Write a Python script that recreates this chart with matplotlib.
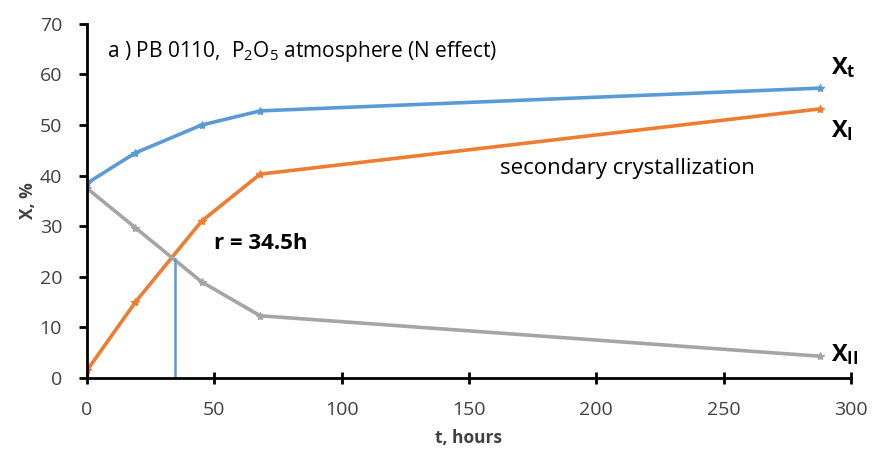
import matplotlib.pyplot as plt
import numpy as np

# time points (hours) and fractions (%)
t = [0, 19, 45, 68, 288]
x_t = [38.5, 44.5, 50.0, 52.8, 57.3]
x_1 = [1.5, 15.0, 31.0, 40.3, 53.2]
x_2 = [37.5, 29.7, 19.0, 12.3, 4.3]
r_t = 34.5
r_x = 23.5

colours = ['#5B9BD5', '#ED7D31', '#A5A5A5']

plt.rcParams['font.family'] = ['Open Sans', 'DejaVu Sans']
plt.rcParams['mathtext.fontset'] = 'custom'
plt.rcParams['mathtext.rm'] = 'Open Sans'
plt.rcParams['mathtext.bf'] = 'Open Sans:bold'
plt.rcParams['mathtext.it'] = 'Open Sans:italic'

fig = plt.figure(figsize=(8.72, 4.5), dpi=100)
ax = fig.add_axes([0.0998, 0.16, 0.876, 0.787])

ax.plot(t, x_t, '-', c=colours[0], lw=2.6, marker='*', ms=6)
ax.plot(t, x_1, '-', c=colours[1], lw=2.6, marker='*', ms=6)
ax.plot(t, x_2, '-', c=colours[2], lw=2.6, marker='*', ms=6)
ax.plot([r_t, r_t], [0, r_x], '-', c=colours[0], lw=1.8)

ax.set_xlim(0, 300)
ax.set_ylim(0, 70)
ax.set_xticks(np.arange(0, 301, 50))
ax.set_yticks(np.arange(0, 71, 10))
ax.tick_params(axis='x', direction='inout', length=9, width=2, labelsize=14, pad=12,
               labelcolor='#404040')
ax.tick_params(axis='y', direction='out', length=6, width=2, labelsize=14, pad=12,
               labelcolor='#404040')
for s in ['top', 'right']:
    ax.spines[s].set_visible(False)
for s in ['left', 'bottom']:
    ax.spines[s].set_linewidth(2)

ax.set_xlabel('t, hours', fontsize=12.5, fontweight='bold', color='#404040')
ax.set_ylabel('X, %', fontsize=12.5, fontweight='bold', color='#404040')
ax.xaxis.set_label_coords(0.5, -0.145)
ax.yaxis.set_label_coords(-0.066, 0.5)

ax.text(8, 64.5, 'a ) PB 0110,  P$_2$O$_5$ atmosphere (N effect)', fontsize=15,
        ha='left', va='center')
ax.text(50, 26.5, 'r = 34.5h', fontsize=16, fontweight='bold', ha='left', va='center')
ax.text(162, 41.5, 'secondary crystallization', fontsize=16, ha='left', va='center')
ax.text(292, 61.3, r'$\mathbf{X_t}$', fontsize=17, ha='left', va='center')
ax.text(292, 48.8, r'$\mathbf{X_I}$', fontsize=17, ha='left', va='center')
ax.text(292, 4.6, r'$\mathbf{X_{II}}$', fontsize=17, ha='left', va='center')

fig.savefig('out.png', dpi=100)
